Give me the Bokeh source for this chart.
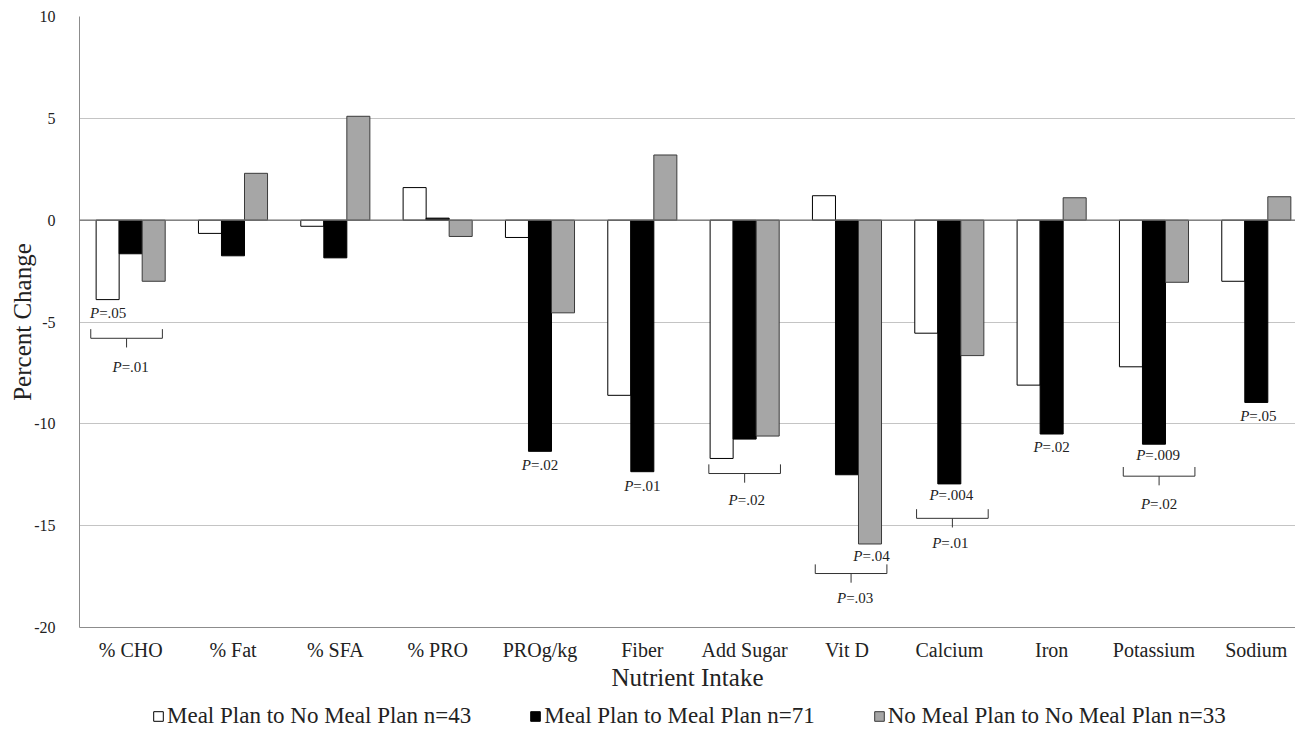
from bokeh.plotting import figure
from bokeh.layouts import column
from bokeh.models import ColumnDataSource, FixedTicker, Range1d, Legend, LegendItem, Span
from bokeh.core.properties import value
from bokeh.embed import file_html
from bokeh.resources import INLINE

# ---------------- data ----------------
categories = ["% CHO", "% Fat", "% SFA", "% PRO", "PROg/kg", "Fiber", "Add Sugar",
              "Vit D", "Calcium", "Iron", "Potassium", "Sodium"]
mp_to_nmp = [-3.9, -0.65, -0.3, 1.6, -0.85, -8.6, -11.7, 1.2, -5.55, -8.1, -7.2, -3.0]
mp_to_mp = [-1.65, -1.75, -1.85, 0.1, -11.35, -12.35, -10.75, -12.5, -12.95, -10.5, -11.0, -8.95]
nmp_to_nmp = [-3.0, 2.3, 5.1, -0.8, -4.55, 3.2, -10.6, -15.9, -6.65, 1.1, -3.05, 1.15]
series_names = ["Meal Plan to No Meal Plan n=43",
                "Meal Plan to Meal Plan n=71",
                "No Meal Plan to No Meal Plan n=33"]
y_ticks = [-20, -15, -10, -5, 0, 5, 10]

# P-value annotations (category index, offset within group, y value, p text)
ann_cat = [0, 0, 4, 5, 6, 7, 7, 8, 8, 9, 10, 10, 11]
ann_dx = [-0.22, 0.0, 0.0, 0.0, 0.02, 0.24, 0.08, 0.02, 0.01, 0.0, 0.04, 0.05, 0.02]
ann_y = [-4.57, -7.2, -12.03, -13.04, -13.75, -16.5, -18.53, -13.47, -15.85, -11.13, -11.54, -13.94, -9.62]
ann_p = [".05", ".01", ".02", ".01", ".02", ".04", ".03", ".004", ".01", ".02", ".009", ".02", ".05"]

# comparison brackets (category index, offset, y value)
br_cat = [0, 6, 7, 8, 10]
br_dx = [-0.04, 0.0, 0.04, 0.03, 0.05]
br_y = [-5.8, -12.44, -17.35, -14.64, -12.57]

# ---------------- styling ----------------
SERIF = "Liberation Serif"
TXT = "#222222"
bar_w = 0.225
offsets = [-bar_w, 0.0, bar_w]
fills = ["white", "black", "#a6a6a6"]
outlines = ["black", "black", "#3a3a3a"]

p = figure(width=1295, height=694, output_backend="svg", toolbar_location=None,
           x_range=Range1d(-0.5, 11.383), y_range=Range1d(-20, 10),
           min_border_left=79, min_border_top=16, min_border_right=0, min_border_bottom=67)
p.outline_line_color = None
p.background_fill_color = "white"
p.border_fill_color = "white"

for vals, off, fc, lc in zip([mp_to_nmp, mp_to_mp, nmp_to_nmp], offsets, fills, outlines):
    src = ColumnDataSource(dict(x=[i + off for i in range(len(categories))], top=vals))
    p.vbar(x="x", top="top", bottom=0, width=bar_w, source=src,
           fill_color=fc, line_color=lc, line_width=1)

p.add_layout(Span(location=0, dimension="width", line_color="#6e6e6e", line_width=1.2))

# brackets
half = 0.35
tick = 0.45
bx0, by0, bx1, by1 = [], [], [], []
for c, dx, y in zip(br_cat, br_dx, br_y):
    cx = c + dx
    bx0 += [cx - half]; by0 += [y]; bx1 += [cx + half]; by1 += [y]
    bx0 += [cx - half, cx + half]; by0 += [y, y]; bx1 += [cx - half, cx + half]; by1 += [y + tick, y + tick]
    bx0 += [cx]; by0 += [y]; bx1 += [cx]; by1 += [y - tick]
p.segment(x0=bx0, y0=by0, x1=bx1, y1=by1, line_color="#333333", line_width=1)

# P-value texts: italic "P" + upright "=.xx", centred together
fs = 15
char_w = {"=": 0.564, ".": 0.25}
def rest_width(s):
    return sum(char_w.get(ch, 0.5) for ch in s) * fs
wP = 0.611 * fs
rests = ["=" + t for t in ann_p]
xoffs = [(wP - rest_width(r)) / 2 for r in rests]
asrc = ColumnDataSource(dict(x=[c + d for c, d in zip(ann_cat, ann_dx)], y=ann_y,
                             p=["P"] * len(ann_p), rest=rests, xo=xoffs))
p.text(x="x", y="y", text="p", source=asrc, x_offset="xo", text_align="right",
       text_baseline="middle", text_font=value(SERIF), text_font_style="italic",
       text_font_size=f"{fs}px", text_color=TXT)
p.text(x="x", y="y", text="rest", source=asrc, x_offset="xo", text_align="left",
       text_baseline="middle", text_font=value(SERIF),
       text_font_size=f"{fs}px", text_color=TXT)

# axes
p.xaxis.ticker = FixedTicker(ticks=list(range(len(categories))))
p.xaxis.major_label_overrides = {i: c for i, c in enumerate(categories)}
p.yaxis.ticker = FixedTicker(ticks=y_ticks)
p.yaxis.major_label_overrides = {t: str(t) for t in y_ticks}
for ax in (p.xaxis, p.yaxis):
    ax.major_tick_out = 0
    ax.major_tick_in = 0
    ax.minor_tick_out = 0
    ax.minor_tick_in = 0
    ax.axis_line_color = "#8c8c8c"
    ax.major_label_text_font = SERIF
    ax.major_label_text_color = TXT
    ax.axis_label_text_font = SERIF
    ax.axis_label_text_font_style = "normal"
    ax.axis_label_text_color = TXT
    ax.axis_label_text_font_size = "25px"

p.xaxis.major_label_text_font_size = "20px"
p.xaxis.major_label_standoff = 11
p.xaxis.axis_label = "Nutrient Intake"
p.xaxis.axis_label_standoff = 0

p.yaxis.major_label_text_font_size = "16px"
p.yaxis.major_label_standoff = 24
p.yaxis.axis_label = "Percent Change"
p.yaxis.axis_label_standoff = -5

p.xgrid.grid_line_color = None
p.ygrid.grid_line_color = "#c4c4c4"
p.ygrid.grid_line_width = 1

# ---------------- legend strip ----------------
lf = figure(width=1295, height=46, output_backend="svg", toolbar_location=None,
            x_axis_type=None, y_axis_type=None, x_range=Range1d(0, 1), y_range=Range1d(0, 1),
            min_border_left=0, min_border_right=0, min_border_top=0, min_border_bottom=0)
lf.outline_line_color = None
lf.grid.grid_line_color = None
lf.border_fill_color = "white"
items = []
for name, fc, lc in zip(series_names, fills, outlines):
    # one sample lying outside both ranges, only so that the legend swatch is drawn
    r = lf.vbar(x=[-5], top=[-5], bottom=-6, width=bar_w, fill_color=fc, line_color=lc, line_width=1)
    items.append(LegendItem(label=name, renderers=[r]))
legend = Legend(items=items, orientation="horizontal", location=(73, 11),
                glyph_width=12, glyph_height=12, spacing=58, label_standoff=3,
                label_text_font=SERIF, label_text_font_size="23px", label_text_color=TXT,
                border_line_color=None, background_fill_alpha=0, margin=0, padding=0)
lf.add_layout(legend, "center")

open("out.html", "w").write(file_html(column(p, lf, spacing=0), INLINE))
